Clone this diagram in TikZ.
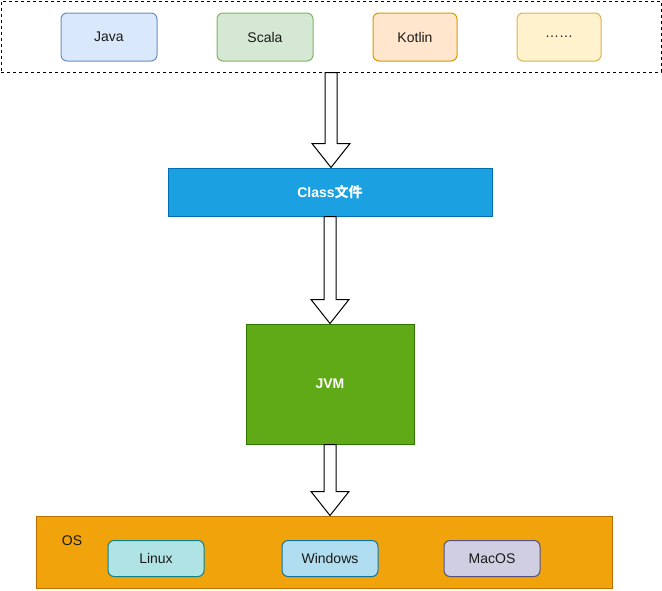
\documentclass[tikz,border=0pt]{standalone}
\usepackage{fontspec}
\setmainfont{Liberation Sans}
\newfontfamily\cjk{Noto Sans CJK SC}
\usetikzlibrary{calc}
\definecolor{javaF}{HTML}{DAE8FC}\definecolor{javaD}{HTML}{6C8EBF}
\definecolor{scalaF}{HTML}{D5E8D4}\definecolor{scalaD}{HTML}{82B366}
\definecolor{kotF}{HTML}{FFE6CC}\definecolor{kotD}{HTML}{D79B00}
\definecolor{dotF}{HTML}{FFF2CC}\definecolor{dotD}{HTML}{D6B656}
\definecolor{clsF}{HTML}{1BA1E2}\definecolor{clsD}{HTML}{006EAF}
\definecolor{jvmF}{HTML}{60A917}\definecolor{jvmD}{HTML}{2D7600}
\definecolor{osF}{HTML}{F0A30A}\definecolor{osD}{HTML}{BD7000}
\definecolor{linF}{HTML}{B0E3E6}\definecolor{linD}{HTML}{0E8088}
\definecolor{winF}{HTML}{B1DDF0}\definecolor{winD}{HTML}{10739E}
\definecolor{macF}{HTML}{D0CEE2}\definecolor{macD}{HTML}{56517E}
\definecolor{txt}{HTML}{1A1A1A}
\tikzset{
  x=1pt, y=-1pt,
  lbl/.style={font=\fontsize{14}{16}\selectfont, text=txt},
  rbox/.style={lbl, draw=#1D, fill=#1F, rounded corners=6pt, line width=1pt, inner sep=0pt},
  solid box/.style={draw=#1D, fill=#1F, line width=1pt, inner sep=0pt, text=white, font=\fontsize{14}{16}\selectfont\bfseries},
  blk/.style={draw=black, fill=white, line width=1pt, line join=miter},
}
% hollow block arrow from node #1 (bottom) to node #2 (top), at the x of #1
\newcommand{\blockarrow}[2]{%
  \draw[blk] ($(#1.south)+(-6,0)$) -- ($(#2.north -| #1.south)+(-6,-24)$) -- ($(#2.north -| #1.south)+(-19,-24)$)
    -- (#2.north -| #1.south) -- ($(#2.north -| #1.south)+(19,-24)$) -- ($(#2.north -| #1.south)+(6,-24)$)
    -- ($(#1.south)+(6,0)$) -- cycle;}
\begin{document}
\begin{tikzpicture}
\useasboundingbox (0,0) rectangle (662,590);
\node[draw=black, dashed, line width=1pt, minimum width=660pt, minimum height=71pt, inner sep=0pt] (src) at (331,36.5) {};
\node[rbox=java, minimum width=96pt, minimum height=48pt] (java) at (109,37) {Java};
\node[rbox=scala, minimum width=96pt, minimum height=48pt] (scala) at (265,37) {Scala};
\node[rbox=kot, minimum width=84pt, minimum height=48pt] (kotlin) at (415,37) {Kotlin};
\node[rbox=dot, minimum width=84pt, minimum height=48pt] (more) at (559,37) {……};
\node[solid box=cls, minimum width=324pt, minimum height=48pt] (cls) at (330,192) {Class{\cjk 文件}};
\node[solid box=jvm, minimum width=168pt, minimum height=120pt] (jvm) at (330,384) {JVM};
\node[draw=osD, fill=osF, line width=1pt, minimum width=576pt, minimum height=72pt, inner sep=0pt] (os) at (324,552) {};
\node[lbl, anchor=center] (oslbl) at (72,541) {OS};
\node[rbox=lin, minimum width=96pt, minimum height=36pt] (linux) at (156,558.5) {Linux};
\node[rbox=win, minimum width=96pt, minimum height=36pt] (windows) at (330,558.5) {Windows};
\node[rbox=mac, minimum width=96pt, minimum height=36pt] (macos) at (492,558.5) {MacOS};
\blockarrow{src}{cls}
\blockarrow{cls}{jvm}
\blockarrow{jvm}{os}
\end{tikzpicture}
\end{document}
